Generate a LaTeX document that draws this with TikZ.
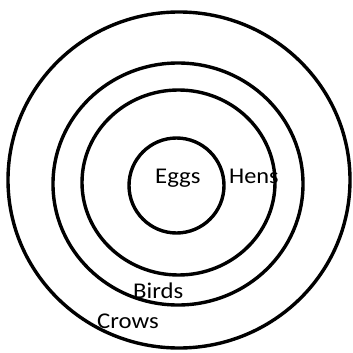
\documentclass[tikz,border=0pt]{standalone}
\usepackage{fontspec}
\usepackage{graphicx}
\setmainfont{Carlito}
\begin{document}
\begin{tikzpicture}[x=1pt,y=-1pt,
  ring/.style={draw=black,line width=3.4pt},
  lbl/.style={anchor=base west,inner sep=0pt,font=\fontsize{22.5}{27}\selectfont,text=black}]
\useasboundingbox (0,0) rectangle (353,353);
\draw[ring] (179,180) ellipse [x radius=171, y radius=168];
\draw[ring] (178,184) ellipse [x radius=125, y radius=121];
\draw[ring] (178.5,182.5) ellipse [x radius=96.5, y radius=92.5];
\draw[ring] (176.5,185.5) circle [radius=47.5];
\node[lbl] (eggs) at (155,183) {\scalebox{1.1}[1]{Eggs}};
\node[lbl] (hens) at (229,183) {\scalebox{1.08}[1]{Hens}};
\node[lbl] (birds) at (133,298) {\scalebox{1.1}[1]{Birds}};
\node[lbl] (crows) at (97,328) {\scalebox{1.1}[1]{Crows}};
\end{tikzpicture}
\end{document}
